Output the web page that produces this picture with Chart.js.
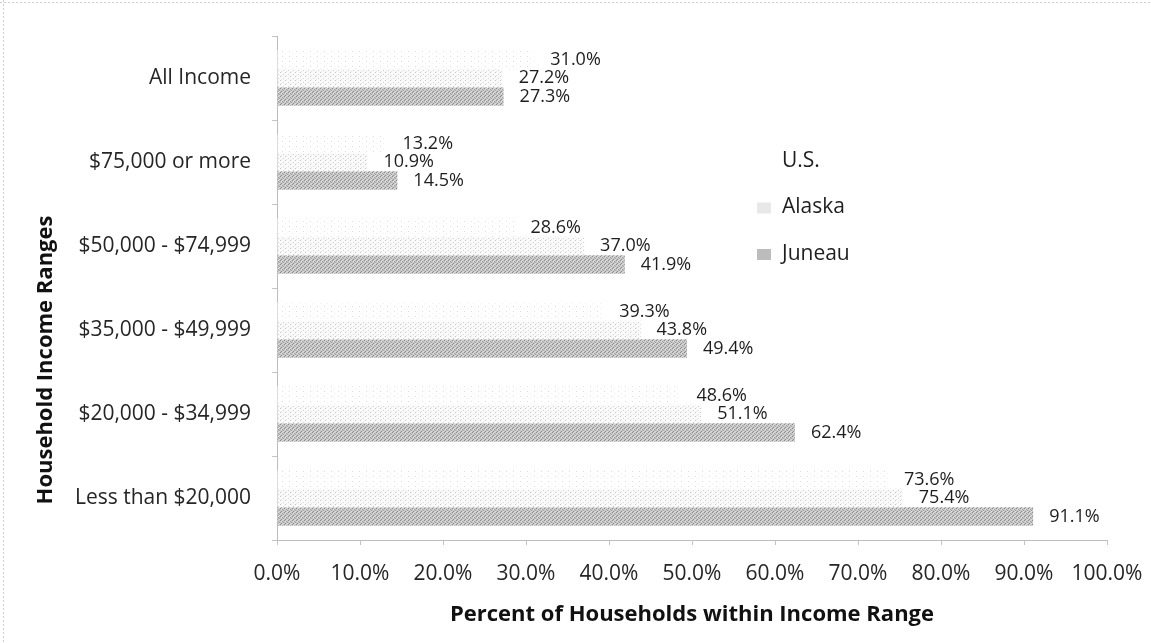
<!DOCTYPE html>
<html>
<head>
<meta charset="utf-8">
<script src="https://cdn.jsdelivr.net/npm/chart.js@4.4.1/dist/chart.umd.min.js"></script>
<style>
  html, body { margin: 0; padding: 0; background: #fff; }
  #wrap { width: 1151px; height: 643px; position: relative; }
</style>
</head>
<body>
<div id="wrap"><canvas id="incomeChart" width="1151" height="643"></canvas></div>
<script>
const categories = ['All Income', '$75,000 or more', '$50,000 - $74,999', '$35,000 - $49,999', '$20,000 - $34,999', 'Less than $20,000'];
const seriesNames = ['U.S.', 'Alaska', 'Juneau'];
const usValues = [31.0, 13.2, 28.6, 39.3, 48.6, 73.6];
const alaskaValues = [27.2, 10.9, 37.0, 43.8, 51.1, 75.4];
const juneauValues = [27.3, 14.5, 41.9, 49.4, 62.4, 91.1];
const xTicks = [0, 10, 20, 30, 40, 50, 60, 70, 80, 90, 100];

const FONT = "'Open Sans', 'DejaVu Sans', sans-serif";

// small fixed dither tiles to mimic the scanned fills
const makePattern = (w, h, base, dots) => {
  const c = document.createElement('canvas');
  c.width = w;
  c.height = h;
  const g = c.getContext('2d');
  g.fillStyle = base;
  g.fillRect(0, 0, w, h);
  dots.forEach(([x, y, col]) => {
    g.fillStyle = col;
    g.fillRect(x, y, 1, 1);
  });
  return g.createPattern(c, 'repeat');
};

document.addEventListener('DOMContentLoaded', () => {
  const canvas = document.getElementById('incomeChart');
  if (!canvas || typeof Chart === 'undefined') return;
  const ctx = canvas.getContext('2d');

  const usFill = makePattern(7, 5, '#ffffff', [[2, 1, '#dcdcdc'], [5, 3, '#efefef']]);
  const alaskaFill = makePattern(5, 4, '#fafafa', [[0, 0, '#c4c4c4'], [3, 2, '#d2d2d2'], [1, 3, '#e6e6e6']]);
  const juneauFill = makePattern(4, 4, '#c6c6c6', [
    [0, 0, '#8c8c8c'], [2, 1, '#9a9a9a'], [1, 3, '#909090'], [3, 2, '#a0a0a0'],
    [1, 1, '#e6e6e6'], [3, 3, '#e0e0e0'], [2, 0, '#dadada'],
  ]);
  const fills = [usFill, alaskaFill, juneauFill];
  const swatchFills = ['#ffffff', '#e8e8e8', '#bcbcbc'];

  const frame = {
    id: 'frame',
    beforeDraw(chart) {
      const c = chart.ctx;
      c.save();
      c.fillStyle = '#ffffff';
      c.fillRect(0, 0, chart.width, chart.height);
      c.strokeStyle = '#cfcfcf';
      c.lineWidth = 1;
      c.setLineDash([2, 2]);
      c.beginPath();
      c.moveTo(0, 2.5);
      c.lineTo(chart.width, 2.5);
      c.moveTo(3.5, 0);
      c.lineTo(3.5, chart.height);
      c.stroke();
      c.restore();
    },
  };

  const valueLabels = {
    id: 'valueLabels',
    afterDatasetsDraw(chart) {
      const c = chart.ctx;
      c.save();
      c.font = '18px ' + FONT;
      c.fillStyle = '#1e1e1e';
      c.textAlign = 'left';
      c.textBaseline = 'middle';
      chart.data.datasets.forEach((ds, i) => {
        chart.getDatasetMeta(i).data.forEach((bar, j) => {
          c.fillText(ds.data[j].toFixed(1) + '%', bar.x + 16, bar.y);
        });
      });
      c.restore();
    },
  };

  const sideLegend = {
    id: 'sideLegend',
    afterDraw(chart) {
      const c = chart.ctx;
      c.save();
      c.font = '21px ' + FONT;
      c.textAlign = 'left';
      c.textBaseline = 'middle';
      chart.data.datasets.forEach((ds, i) => {
        const y = 161 + i * 46.5;
        c.fillStyle = swatchFills[i];
        c.fillRect(757, y - 5, 14, 11);
        c.fillStyle = '#1e1e1e';
        c.fillText(ds.label, 782, y);
      });
      c.restore();
    },
  };

  const yTitle = {
    id: 'yTitle',
    afterDraw(chart) {
      const c = chart.ctx;
      c.save();
      c.translate(46, 360);
      c.rotate(-Math.PI / 2);
      c.font = 'bold 22px ' + FONT;
      c.fillStyle = '#111';
      c.textAlign = 'center';
      c.textBaseline = 'middle';
      c.fillText('Household Income Ranges', 0, 0);
      c.restore();
    },
  };

  const valueSets = [usValues, alaskaValues, juneauValues];

  new Chart(ctx, {
    type: 'bar',
    data: {
      labels: categories,
      datasets: seriesNames.map((name, i) => ({
        label: name,
        data: valueSets[i],
        backgroundColor: fills[i],
        borderWidth: 0,
        categoryPercentage: 0.66,
        barPercentage: 1.0,
      })),
    },
    options: {
      indexAxis: 'y',
      responsive: false,
      animation: false,
      layout: {
        padding: { top: 36, right: 44, left: 0, bottom: 0 },
      },
      plugins: {
        legend: { display: false },
        tooltip: { enabled: false },
      },
      scales: {
        x: {
          min: 0,
          max: 100,
          afterFit: (scale) => {
            scale.height = 103;
            scale.paddingLeft = 0;
            scale.paddingRight = 0;
          },
          afterBuildTicks: (scale) => { scale.ticks = xTicks.map((v) => ({ value: v })); },
          ticks: {
            padding: 16,
            color: '#262626',
            font: { family: FONT, size: 21 },
            callback: (v) => Number(v).toFixed(1) + '%',
          },
          grid: {
            drawOnChartArea: false,
            tickLength: 5,
            color: '#c4c4c4',
          },
          border: { color: '#bdbdbd' },
          title: {
            display: true,
            text: 'Percent of Households within Income Range',
            color: '#111',
            font: { family: FONT, size: 22, weight: 'bold' },
            padding: { top: 0, bottom: 15 },
          },
        },
        y: {
          afterFit: (scale) => { scale.width = 277; },
          ticks: {
            padding: 21,
            color: '#262626',
            font: { family: FONT, size: 21 },
          },
          grid: {
            drawOnChartArea: false,
            tickLength: 5,
            color: '#c4c4c4',
          },
          border: { color: '#bdbdbd' },
        },
      },
    },
    plugins: [frame, valueLabels, sideLegend, yTitle],
  });
});
</script>
</body>
</html>
